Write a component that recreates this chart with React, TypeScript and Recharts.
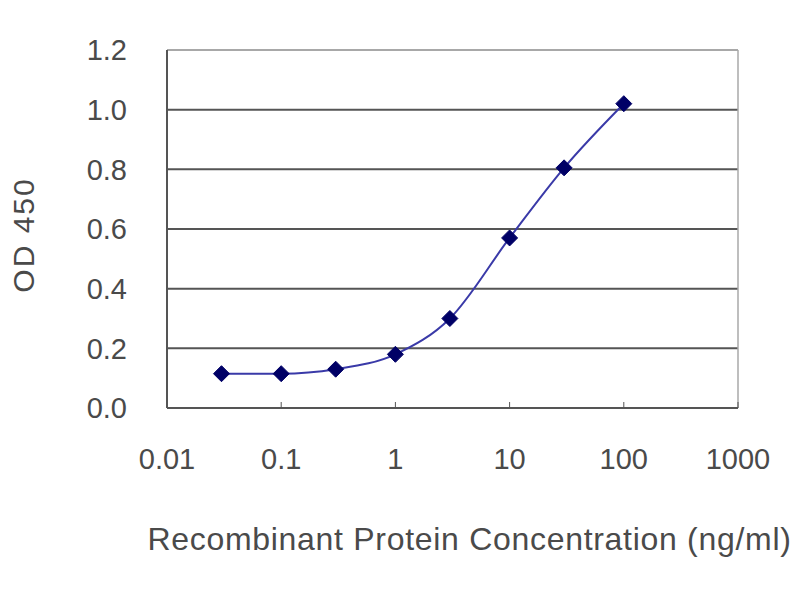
import { CartesianGrid, Line, LineChart, ReferenceLine, XAxis, YAxis } from "recharts";

const concentrations = [0.03, 0.1, 0.3, 1, 3, 10, 30, 100];
const od450 = [0.115, 0.115, 0.13, 0.18, 0.3, 0.57, 0.805, 1.02];
const xTicks = [0.01, 0.1, 1, 10, 100, 1000];
const yTicks = [0, 0.2, 0.4, 0.6, 0.8, 1.0, 1.2];

const data = concentrations.map((c, i) => ({ conc: c, od: od450[i] }));

const FONT = "'Liberation Sans', Arial, sans-serif";
const TEXT = "#4a4a4a";

function Diamond({ cx, cy }: { cx?: number; cy?: number }) {
  if (cx == null || cy == null) return null;
  const r = 8;
  return (
    <polygon
      points={`${cx},${cy - r} ${cx + r},${cy} ${cx},${cy + r} ${cx - r},${cy}`}
      fill="#000066"
      stroke="#000066"
    />
  );
}

function YLabel({ viewBox }: { viewBox?: { x: number; y: number; height: number } }) {
  if (!viewBox) return null;
  const x = viewBox.x + 23;
  const y = viewBox.y + viewBox.height / 2 + 6;
  return (
    <text
      x={x}
      y={y}
      transform={`rotate(-90 ${x} ${y})`}
      textAnchor="middle"
      dominantBaseline="central"
      fill={TEXT}
      fontSize={30}
      letterSpacing={2}
      fontFamily={FONT}
    >
      OD 450
    </text>
  );
}

export default function App() {
  return (
    <div style={{ position: "absolute", left: 0, top: 0, background: "#fff" }}>
      <LineChart
        width={800}
        height={600}
        data={data}
        margin={{ top: 50, right: 62, left: 0, bottom: 32 }}
      >
        <CartesianGrid vertical={false} stroke="#555" strokeWidth={2} />
        <ReferenceLine y={1.2} stroke="#a8a8a8" strokeWidth={2} />
        <ReferenceLine x={1000} stroke="#a8a8a8" strokeWidth={1.5} />
        <XAxis
          dataKey="conc"
          type="number"
          scale="log"
          domain={[0.01, 1000]}
          ticks={xTicks}
          allowDataOverflow
          height={160}
          axisLine={{ stroke: "#555", strokeWidth: 2 }}
          tickLine={{ stroke: "#555" }}
          tickSize={-6}
          tickMargin={46}
          tick={{ fill: TEXT, fontSize: 29, fontFamily: FONT }}
          tickFormatter={(v: number) => String(v)}
          label={{
            value: "Recombinant Protein Concentration (ng/ml)",
            position: "insideBottom",
            offset: 18,
            dx: 17,
            fill: TEXT,
            fontSize: 32,
            letterSpacing: 0.7,
            fontFamily: FONT,
          }}
        />
        <YAxis
          type="number"
          domain={[0, 1.2]}
          ticks={yTicks}
          width={167}
          axisLine={{ stroke: "#555", strokeWidth: 2 }}
          tickLine={false}
          tickMargin={34}
          tick={{ fill: TEXT, fontSize: 29, fontFamily: FONT }}
          tickFormatter={(v: number) => v.toFixed(1)}
          label={<YLabel />}
        />
        <Line
          type="monotone"
          dataKey="od"
          stroke="#3a3aa8"
          strokeWidth={2}
          dot={<Diamond />}
          activeDot={false}
          isAnimationActive={false}
        />
      </LineChart>
    </div>
  );
}
